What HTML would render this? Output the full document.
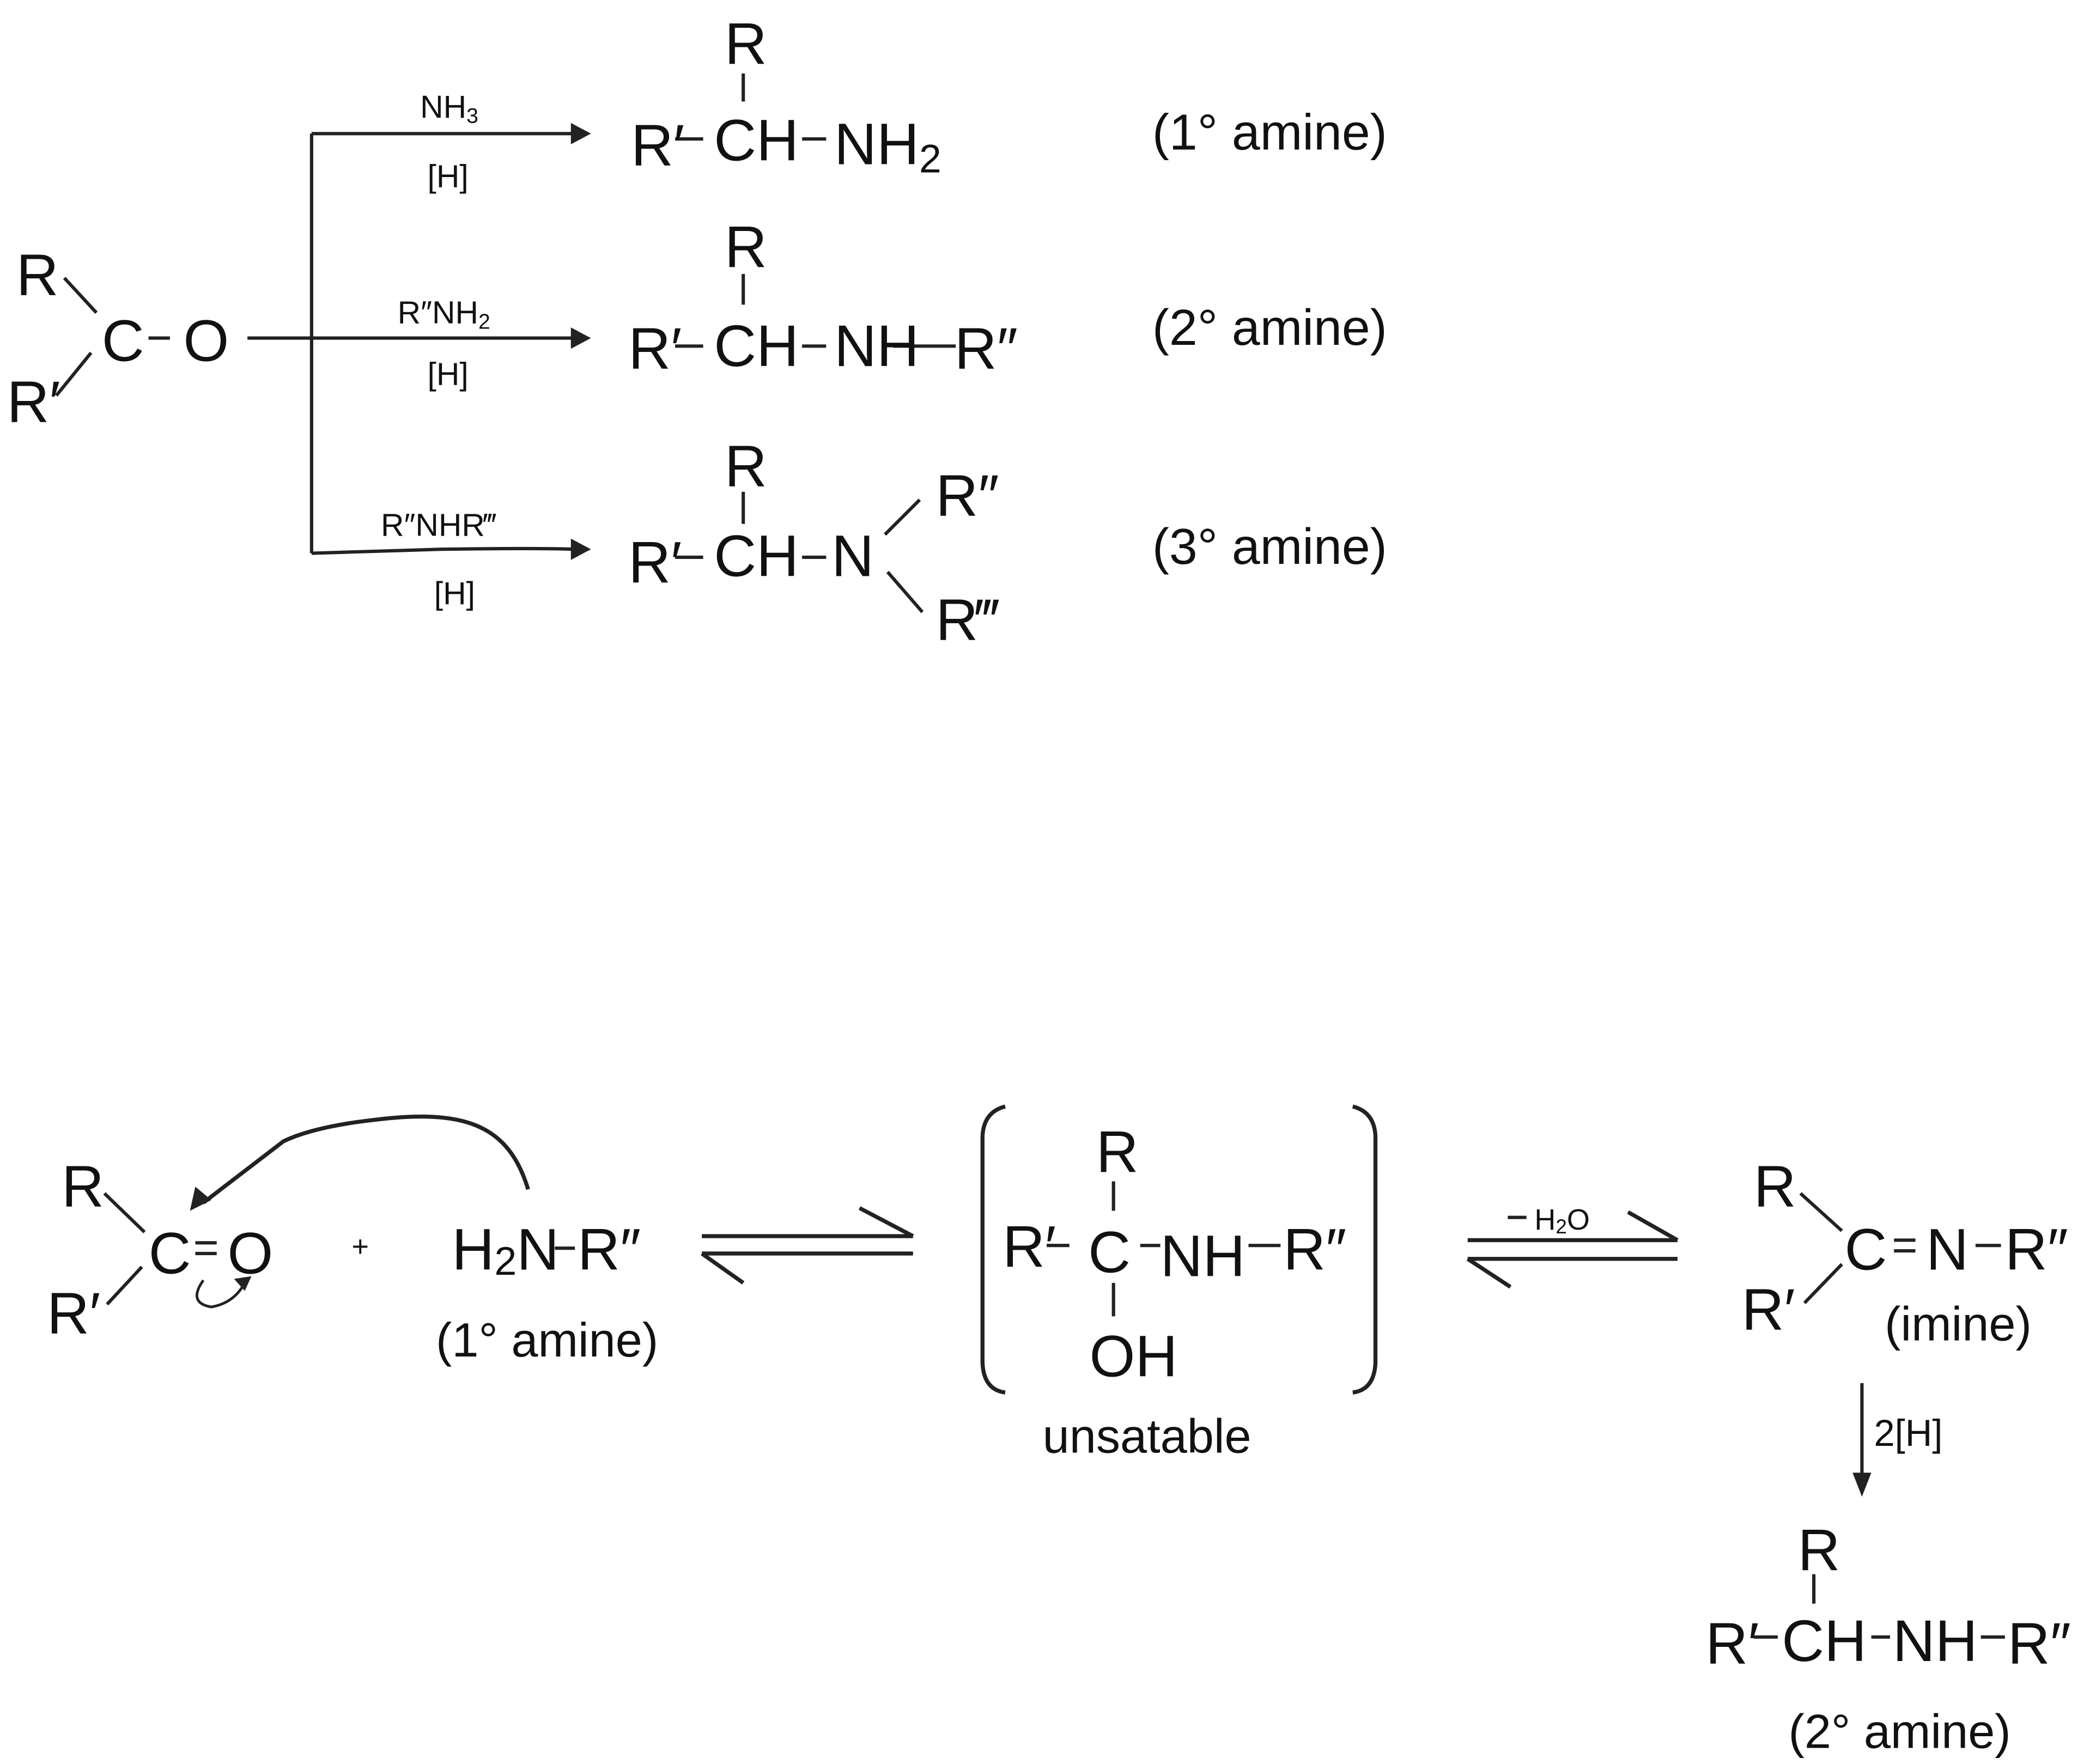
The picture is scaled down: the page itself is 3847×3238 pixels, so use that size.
<!DOCTYPE html>
<html><head><meta charset="utf-8"><style>
html,body{margin:0;padding:0;background:#fff;}
svg{display:block;}
text{font-family:"Liberation Sans",sans-serif;fill:#111;}
</style></head><body>
<svg width="3847" height="3238" viewBox="0 0 1568 1320" xmlns="http://www.w3.org/2000/svg">
<defs>
<marker id="ah" viewBox="0 0 10 10" refX="9" refY="5" markerWidth="6" markerHeight="6" orient="auto" markerUnits="userSpaceOnUse">
</marker>
</defs>
<g stroke="#222" stroke-width="2.5" fill="none">
<!-- top reactant bonds -->
<line x1="48" y1="208" x2="72" y2="234"/>
<line x1="68" y1="264" x2="42" y2="296"/>
<line x1="111" y1="253" x2="127" y2="253"/>
<!-- branching lines -->
<line x1="185" y1="253" x2="430" y2="253"/>
<line x1="233" y1="100" x2="233" y2="414"/>
<line x1="233" y1="100" x2="430" y2="100"/>
<path d="M233,414 L330,411 Q400,410 430,411"/>
<!-- product bonds -->
<line x1="556" y1="55" x2="556" y2="76"/>
<line x1="505" y1="104" x2="526" y2="104"/>
<line x1="600" y1="104" x2="618" y2="104"/>
<line x1="556" y1="205" x2="556" y2="228"/>
<line x1="505" y1="259" x2="526" y2="259"/>
<line x1="600" y1="259" x2="618" y2="259"/>
<line x1="668" y1="259" x2="715" y2="259"/>
<line x1="556" y1="368" x2="556" y2="392"/>
<line x1="505" y1="417" x2="526" y2="417"/>
<line x1="600" y1="417" x2="618" y2="417"/>
<line x1="662" y1="400" x2="688" y2="374"/>
<line x1="664" y1="428" x2="690" y2="458"/>
<!-- bottom reactant -->
<line x1="78" y1="893" x2="108" y2="922"/>
<line x1="80" y1="976" x2="106" y2="948"/>
<line x1="146" y1="930" x2="162" y2="930"/>
<line x1="146" y1="938" x2="162" y2="938"/>
<path d="M395,890 C380,840 345,830 280,838 Q235,843 212,854 L152,900" stroke-width="3"/>
<path d="M152,958 Q140,975 158,978 Q175,975 183,960" stroke-width="2"/>
<line x1="415" y1="934" x2="430" y2="934"/>
<!-- equilibrium 1 -->
<line x1="525" y1="925" x2="683" y2="925" stroke-width="3"/>
<line x1="683" y1="925" x2="643" y2="904" stroke-width="3"/>
<line x1="525" y1="938" x2="683" y2="938" stroke-width="3"/>
<line x1="525" y1="938" x2="556" y2="960" stroke-width="3"/>
<!-- brackets -->
<path d="M752,828 Q736,832 735,850 L735,1020 Q736,1040 752,1042" stroke-width="3"/>
<path d="M1012,828 Q1028,832 1029,850 L1029,1020 Q1028,1040 1012,1042" stroke-width="3"/>
<line x1="833" y1="884" x2="833" y2="906"/>
<line x1="783" y1="932" x2="800" y2="932"/>
<line x1="853" y1="932" x2="868" y2="932"/>
<line x1="934" y1="932" x2="958" y2="932"/>
<line x1="833" y1="960" x2="833" y2="985"/>
<!-- equilibrium 2 -->
<line x1="1098" y1="928" x2="1255" y2="928" stroke-width="3"/>
<line x1="1255" y1="928" x2="1218" y2="907" stroke-width="3"/>
<line x1="1098" y1="942" x2="1255" y2="942" stroke-width="3"/>
<line x1="1098" y1="942" x2="1130" y2="963" stroke-width="3"/>
<line x1="1128" y1="911" x2="1142" y2="911"/>
<!-- imine -->
<line x1="1347" y1="893" x2="1378" y2="921"/>
<line x1="1350" y1="975" x2="1378" y2="946"/>
<line x1="1417" y1="928" x2="1433" y2="928"/>
<line x1="1417" y1="936" x2="1433" y2="936"/>
<line x1="1478" y1="932" x2="1497" y2="932"/>
<line x1="1393" y1="1035" x2="1393" y2="1105"/>
<!-- final product -->
<line x1="1357" y1="1178" x2="1357" y2="1200"/>
<line x1="1312" y1="1225" x2="1330" y2="1225"/>
<line x1="1400" y1="1225" x2="1414" y2="1225"/>
<line x1="1482" y1="1225" x2="1500" y2="1225"/>
</g>
<g fill="#222">
<polygon points="442,100 427,92 427,108"/>
<polygon points="442,253 427,245 427,261"/>
<polygon points="442,411 427,403 427,419"/>
<polygon points="142,906 146,888 158,898"/>
<polygon points="188,955 175,957 183,966"/>
<polygon points="1393,1120 1386,1102 1400,1102"/>
</g>
<g font-size="44">
<text x="12" y="221">R</text>
<text x="5" y="316">R′</text>
<text x="76" y="270">C</text>
<text x="137" y="270">O</text>
<text x="542" y="48">R</text>
<text x="472" y="124">R′</text>
<text x="534" y="120">CH</text>
<text x="624" y="123">NH<tspan font-size="30" dy="6">2</tspan></text>
<text x="542" y="200">R</text>
<text x="470" y="276">R′</text>
<text x="534" y="274">CH</text>
<text x="624" y="274">NH</text>
<text x="714" y="276">R″</text>
<text x="542" y="364">R</text>
<text x="470" y="436">R′</text>
<text x="534" y="431">CH</text>
<text x="622" y="431">N</text>
<text x="700" y="386">R″</text>
<text x="700" y="479">R‴</text>
</g>
<g font-size="38">
<text x="862" y="112">(1° amine)</text>
<text x="862" y="258">(2° amine)</text>
<text x="862" y="422">(3° amine)</text>
</g>
<g font-size="24" text-anchor="middle">
<text x="336" y="88">NH<tspan font-size="16" dy="4">3</tspan></text>
<text x="335" y="140">[H]</text>
<text x="332" y="242">R″NH<tspan font-size="16" dy="4">2</tspan></text>
<text x="335" y="288">[H]</text>
<text x="328" y="401">R″NHR‴</text>
<text x="340" y="452">[H]</text>
</g>
<g font-size="44">
<text x="46" y="903">R</text>
<text x="35" y="998">R′</text>
<text x="111" y="953">C</text>
<text x="170" y="953">O</text>
<text x="338" y="950">H<tspan font-size="30" dy="4">2</tspan><tspan dy="-4">N</tspan></text>
<text x="432" y="950">R″</text>
<text x="820" y="877">R</text>
<text x="750" y="948">R′</text>
<text x="814" y="952">C</text>
<text x="868" y="955">NH</text>
<text x="960" y="950">R″</text>
<text x="815" y="1030">OH</text>
<text x="1312" y="903">R</text>
<text x="1303" y="995">R′</text>
<text x="1380" y="950">C</text>
<text x="1441" y="950">N</text>
<text x="1500" y="950">R″</text>
<text x="1345" y="1175">R</text>
<text x="1276" y="1245">R′</text>
<text x="1333" y="1243">CH</text>
<text x="1416" y="1243">NH</text>
<text x="1502" y="1245">R″</text>
</g>
<g font-size="36">
<text x="326" y="1015">(1° amine)</text>
<text x="780" y="1087">unsatable</text>
<text x="1410" y="1003">(imine)</text>
<text x="1338" y="1308">(2° amine)</text>
</g>
<text x="263" y="940" font-size="22">+</text>
<text x="1148" y="920" font-size="22">H<tspan font-size="15" dy="3">2</tspan><tspan dy="-3">O</tspan></text>
<text x="1402" y="1082" font-size="28">2[H]</text>
</svg>
</body></html>
